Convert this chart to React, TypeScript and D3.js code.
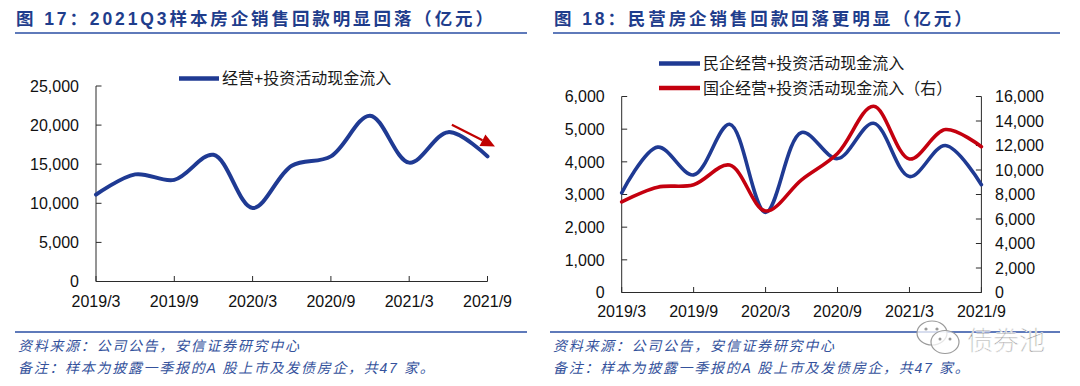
import React from "react";
import * as d3 from "d3";

// quarterly data, 2019Q1 - 2021Q3 (亿元)
const quarters = ["2019/3", "2019/6", "2019/9", "2019/12", "2020/3", "2020/6", "2020/9", "2020/12", "2021/3", "2021/6", "2021/9"];
const tickLabels = ["2019/3", "2019/9", "2020/3", "2020/9", "2021/3", "2021/9"];

const totalInflow = [11100, 13700, 13000, 16200, 9400, 14800, 16000, 21200, 15200, 19100, 16000];
const privateInflow = [3050, 4450, 3600, 5150, 2450, 4900, 4100, 5180, 3550, 4500, 3300];
const stateInflow = [7400, 8600, 8800, 10400, 6650, 9200, 11350, 15200, 10900, 13300, 11900];

const leftTicks = [0, 5000, 10000, 15000, 20000, 25000];
const privTicks = [0, 1000, 2000, 3000, 4000, 5000, 6000];
const stateTicks = [0, 2000, 4000, 6000, 8000, 10000, 12000, 14000, 16000];

// arrow annotation on chart 17: [quarter index, value]
const arrowFrom = [9.09, 20050];
const arrowTo = [10.19, 17250];

const FONT = "'Liberation Sans', Arial, 'Noto Sans CJK SC', sans-serif";
const BLUE = "#1f3a93";
const RED = "#c4000f";
const AXIS = "#2b2b2b";
const NAVY = "#1f3d8c";
const NOTE = "#34529c";

const fmt = d3.format(",");

const Title = ({ x, x2, text }: { x: number; x2: number; text: string }) => (
  <g>
    <text x={x} y={25} fontFamily={FONT} fontSize={17.5} fontWeight={700} fill={NAVY} letterSpacing={2.9}>
      {text}
    </text>
    <line x1={x - 1} x2={x2} y1={33} y2={33} stroke="#2a4ea3" strokeWidth={1.6} />
  </g>
);

const Footer = ({ x, x2 }: { x: number; x2: number }) => (
  <g fontFamily={FONT} fontSize={14} fontStyle="italic" fill={NOTE} letterSpacing={1.7}>
    <line x1={x - 3} x2={x2} y1={332} y2={332} stroke="#2a4ea3" strokeWidth={1.6} />
    <text x={x} y={351}>资料来源：公司公告，安信证券研究中心</text>
    <text x={x} y={373}>备注：样本为披露一季报的A 股上市及发债房企，共47 家。</text>
  </g>
);

const Chart17 = () => {
  const x = d3.scalePoint<string>().domain(quarters).range([96, 487.5]);
  const xi = d3.scaleLinear().domain([0, quarters.length - 1]).range([96, 487.5]);
  const y = d3.scaleLinear().domain([0, 25000]).range([281.5, 86]);
  const line = d3
    .line<number>()
    .x((_, i) => x(quarters[i]) as number)
    .y((d) => y(d))
    .curve(d3.curveCatmullRom);

  const ax = xi(arrowFrom[0]);
  const ay = y(arrowFrom[1]);
  const bx = xi(arrowTo[0]);
  const by = y(arrowTo[1]);
  const ang = Math.atan2(by - ay, bx - ax);
  const hl = 14;
  const hw = 6.5;
  const baseX = bx - hl * Math.cos(ang);
  const baseY = by - hl * Math.sin(ang);
  const head = [
    [bx, by],
    [baseX + hw * Math.sin(ang), baseY - hw * Math.cos(ang)],
    [baseX - hw * Math.sin(ang), baseY + hw * Math.cos(ang)],
  ];

  return (
    <g>
      <Title x={16} x2={527} text="图 17：2021Q3样本房企销售回款明显回落（亿元）" />
      {/* legend */}
      <line x1={179} x2={219} y1={78.5} y2={78.5} stroke={BLUE} strokeWidth={4.5} />
      <text x={222} y={84} fontFamily={FONT} fontSize={16} fill="#1a1a1a">经营+投资活动现金流入</text>

      {/* axes */}
      <line x1={96} x2={96} y1={y(25000)} y2={y(0)} stroke={AXIS} />
      <line x1={96} x2={487.5} y1={y(0)} y2={y(0)} stroke={AXIS} />
      {leftTicks.map((t) => (
        <g key={t}>
          <line x1={96} x2={101.5} y1={y(t)} y2={y(t)} stroke={AXIS} />
          <text x={79} y={y(t) + 5.7} textAnchor="end" fontFamily={FONT} fontSize={16} fill="#111">
            {fmt(t)}
          </text>
        </g>
      ))}
      {tickLabels.map((t) => (
        <g key={t}>
          <line x1={x(t)} x2={x(t)} y1={y(0)} y2={y(0) - 5.5} stroke={AXIS} />
          <text x={x(t)} y={307} textAnchor="middle" fontFamily={FONT} fontSize={16} fill="#111">
            {t}
          </text>
        </g>
      ))}

      <path d={line(totalInflow) || ""} fill="none" stroke={BLUE} strokeWidth={4} strokeLinecap="round" />

      <line x1={ax} y1={ay} x2={baseX} y2={baseY} stroke="#c00000" strokeWidth={2.2} />
      <polygon points={head.map((p) => p.join(",")).join(" ")} fill="#c00000" />

      <Footer x={18} x2={527} />
    </g>
  );
};

const Chart18 = () => {
  const x0 = 621.7;
  const x1 = 981.4;
  const x = d3.scalePoint<string>().domain(quarters).range([x0, x1]);
  const yl = d3.scaleLinear().domain([0, 6000]).range([292.5, 96.5]);
  const yr = d3.scaleLinear().domain([0, 16000]).range([292.5, 96.5]);
  const mk = (sc: d3.ScaleLinear<number, number>) =>
    d3
      .line<number>()
      .x((_, i) => x(quarters[i]) as number)
      .y((d) => sc(d))
      .curve(d3.curveCatmullRom);

  return (
    <g>
      <Title x={554} x2={1060} text="图 18：民营房企销售回款回落更明显（亿元）" />
      {/* legend */}
      <line x1={659} x2={700} y1={63.5} y2={63.5} stroke={BLUE} strokeWidth={4.5} />
      <text x={703} y={69} fontFamily={FONT} fontSize={16} fill="#1a1a1a">民企经营+投资活动现金流入</text>
      <line x1={659} x2={700} y1={88} y2={88} stroke={RED} strokeWidth={4.5} />
      <text x={703} y={93.5} fontFamily={FONT} fontSize={16} fill="#1a1a1a">国企经营+投资活动现金流入（右）</text>

      <line x1={x0} x2={x0} y1={yl(6000)} y2={yl(0)} stroke={AXIS} />
      <line x1={x1} x2={x1} y1={yr(16000)} y2={yr(0)} stroke={AXIS} />
      <line x1={x0} x2={x1} y1={yl(0)} y2={yl(0)} stroke={AXIS} />
      {privTicks.map((t) => (
        <g key={t}>
          <line x1={x0} x2={x0 + 5.5} y1={yl(t)} y2={yl(t)} stroke={AXIS} />
          <text x={x0 - 17} y={yl(t) + 5.7} textAnchor="end" fontFamily={FONT} fontSize={16} fill="#111">
            {fmt(t)}
          </text>
        </g>
      ))}
      {stateTicks.map((t) => (
        <g key={t}>
          <line x1={x1} x2={x1 - 5.5} y1={yr(t)} y2={yr(t)} stroke={AXIS} />
          <text x={995} y={yr(t) + 5.7} fontFamily={FONT} fontSize={16} fill="#111">
            {fmt(t)}
          </text>
        </g>
      ))}
      {tickLabels.map((t) => (
        <g key={t}>
          <line x1={x(t)} x2={x(t)} y1={yl(0)} y2={yl(0) - 5.5} stroke={AXIS} />
          <text x={x(t)} y={317} textAnchor="middle" fontFamily={FONT} fontSize={16} fill="#111">
            {t}
          </text>
        </g>
      ))}

      <path d={mk(yl)(privateInflow) || ""} fill="none" stroke={BLUE} strokeWidth={3.6} strokeLinecap="round" />
      <path d={mk(yr)(stateInflow) || ""} fill="none" stroke={RED} strokeWidth={3.6} strokeLinecap="round" />

      <Footer x={553} x2={1060} />
    </g>
  );
};

const Watermark = () => (
  <g>
    <g stroke="#9a9a9a" strokeWidth={1.2} fill="#fff" fillOpacity={0.75}>
      <ellipse cx={932} cy={333} rx={15} ry={12} />
      <ellipse cx={945} cy={342} rx={14} ry={11.5} />
    </g>
    <g fill="#9a9a9a">
      <circle cx={926} cy={329} r={1.6} />
      <circle cx={937} cy={329} r={1.6} />
      <circle cx={940} cy={339} r={1.5} />
      <circle cx={950} cy={339} r={1.5} />
    </g>
    <text
      x={967}
      y={350}
      fontFamily="'Noto Sans CJK SC', sans-serif"
      fontSize={26}
      fontWeight={300}
      fill="#8c8c8c"
      stroke="#fff"
      strokeWidth={0.6}
    >
      债券池
    </text>
  </g>
);

export default function App() {
  return (
    <div style={{ position: "absolute", left: 0, top: 0, width: 1080, height: 386, background: "#fff" }}>
      <svg width={1080} height={386} viewBox="0 0 1080 386">
        <rect width={1080} height={386} fill="#fff" />
        <Chart17 />
        <Chart18 />
        <Watermark />
      </svg>
    </div>
  );
}
